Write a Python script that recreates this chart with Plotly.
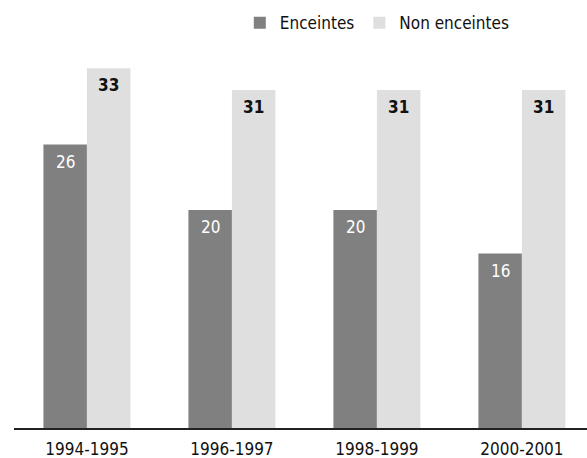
import plotly.graph_objects as go

categories = ["1994-1995", "1996-1997", "1998-1999", "2000-2001"]
enceintes = [26, 20, 20, 16]
non_enceintes = [33, 31, 31, 31]
series_names = ["Enceintes", "Non enceintes"]

FONT = "DejaVu Sans Condensed, Liberation Sans Narrow, sans-serif"
DARK = "#808080"
LIGHT = "#dfdfdf"

fig = go.Figure()
fig.add_trace(go.Bar(x=categories, y=enceintes, name=series_names[0],
                     marker=dict(color=DARK, line=dict(width=0))))
fig.add_trace(go.Bar(x=categories, y=non_enceintes, name=series_names[1],
                     marker=dict(color=LIGHT, line=dict(width=0))))

bar_px = 43.5
for i, c in enumerate(categories):
    fig.add_annotation(x=c, y=enceintes[i], text=str(enceintes[i]), showarrow=False,
                       xshift=-bar_px / 2, yshift=-17, yanchor="middle",
                       font=dict(family=FONT, size=17, color="white"))
    fig.add_annotation(x=c, y=non_enceintes[i], text="<b>%d</b>" % non_enceintes[i], showarrow=False,
                       xshift=bar_px / 2, yshift=-17, yanchor="middle",
                       font=dict(family=FONT, size=17, color="#111111"))

fig.update_layout(
    width=587, height=458,
    margin=dict(l=14, r=0, t=60, b=30, autoexpand=False),
    paper_bgcolor="white", plot_bgcolor="white",
    barmode="group", bargap=0.4, bargroupgap=0,
    font=dict(family=FONT, size=17, color="#111111"),
    showlegend=True,
    legend=dict(orientation="h", x=0.874, xanchor="right", y=1.10, yanchor="middle",
                font=dict(family=FONT, size=17, color="#111111"),
                itemwidth=30, tracegroupgap=0, bgcolor="rgba(0,0,0,0)"),
    xaxis=dict(range=[-0.503, 3.449], showgrid=False, zeroline=False, automargin=False,
               showline=True, linecolor="#222222", linewidth=1.5,
               ticks="", ticklabelstandoff=5,
               tickfont=dict(family=FONT, size=17, color="#111111")),
    yaxis=dict(range=[0, 33.76], visible=False, showgrid=False, zeroline=False, automargin=False),
)

fig.write_html("out.html")
